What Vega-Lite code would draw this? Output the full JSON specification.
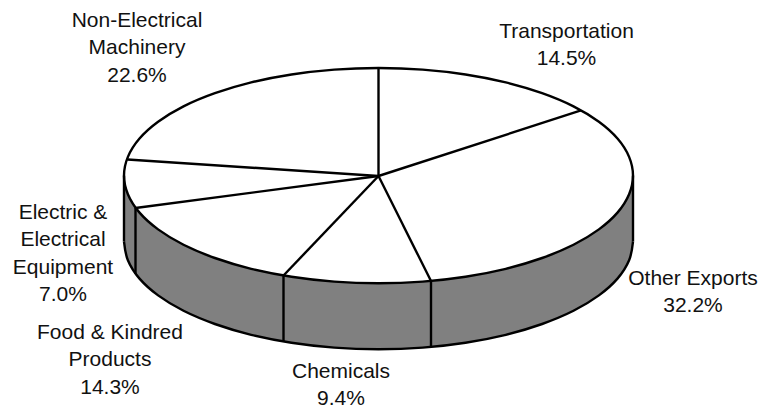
{
"$schema":"https://vega.github.io/schema/vega-lite/v6.json",
"width":761,"height":407,"padding":0,"autosize":{"type":"none"},
"background":"white",
"config":{"view":{"stroke":null}},
"datasets":{
"rim":[{"i":0,"x":633.0,"y":175.6},{"i":1,"x":629.1,"y":194.3},{"i":2,"x":617.7,"y":212.4},{"i":3,"x":598.9,"y":229.4},{"i":4,"x":573.5,"y":244.8},{"i":5,"x":542.1,"y":258.0},{"i":6,"x":505.8,"y":268.8},{"i":7,"x":465.5,"y":276.7},{"i":8,"x":422.7,"y":281.6},{"i":9,"x":378.5,"y":283.2},{"i":10,"x":334.3,"y":281.6},{"i":11,"x":291.5,"y":276.7},{"i":12,"x":251.2,"y":268.8},{"i":13,"x":214.9,"y":258.0},{"i":14,"x":183.5,"y":244.8},{"i":15,"x":158.1,"y":229.4},{"i":16,"x":139.3,"y":212.4},{"i":17,"x":127.9,"y":194.3},{"i":18,"x":124.0,"y":175.6},{"i":19,"x":127.9,"y":156.9},{"i":20,"x":139.3,"y":138.8},{"i":21,"x":158.1,"y":121.8},{"i":22,"x":183.5,"y":106.4},{"i":23,"x":214.9,"y":93.2},{"i":24,"x":251.2,"y":82.4},{"i":25,"x":291.5,"y":74.5},{"i":26,"x":334.3,"y":69.6},{"i":27,"x":378.5,"y":68.0},{"i":28,"x":422.7,"y":69.6},{"i":29,"x":465.5,"y":74.5},{"i":30,"x":505.8,"y":82.4},{"i":31,"x":542.1,"y":93.2},{"i":32,"x":573.5,"y":106.4},{"i":33,"x":598.9,"y":121.8},{"i":34,"x":617.7,"y":138.8},{"i":35,"x":629.1,"y":156.9}],
"wall":[{"x":633.0,"top":175.6,"base":241.6},{"x":629.1,"top":194.3,"base":260.3},{"x":617.7,"top":212.4,"base":278.4},{"x":598.9,"top":229.4,"base":295.4},{"x":573.5,"top":244.8,"base":310.8},{"x":542.1,"top":258.0,"base":324.0},{"x":505.8,"top":268.8,"base":334.8},{"x":465.5,"top":276.7,"base":342.7},{"x":422.7,"top":281.6,"base":347.6},{"x":378.5,"top":283.2,"base":349.2},{"x":334.3,"top":281.6,"base":347.6},{"x":291.5,"top":276.7,"base":342.7},{"x":251.2,"top":268.8,"base":334.8},{"x":214.9,"top":258.0,"base":324.0},{"x":183.5,"top":244.8,"base":310.8},{"x":158.1,"top":229.4,"base":295.4},{"x":139.3,"top":212.4,"base":278.4},{"x":127.9,"top":194.3,"base":260.3},{"x":124.0,"top":175.6,"base":241.6}],
"edges":[{"x":633.0,"top":175.6,"base":241.6},{"x":431.0,"top":281.0,"base":347.0},{"x":283.5,"top":275.5,"base":341.5},{"x":135.5,"top":208.0,"base":274.0},{"x":124.0,"top":175.6,"base":241.6}],
"slices":[{"slice":"Transportation","share":14.5,"hx":378.5,"hy":176,"rx":581,"ry":110.4},{"slice":"Other Exports","share":32.2,"hx":378.5,"hy":176,"rx":431,"ry":281},{"slice":"Chemicals","share":9.4,"hx":378.5,"hy":176,"rx":283.5,"ry":275.5},{"slice":"Food & Kindred Products","share":14.3,"hx":378.5,"hy":176,"rx":135.5,"ry":208},{"slice":"Electric & Electrical Equipment","share":7.0,"hx":378.5,"hy":176,"rx":127.5,"ry":159.5},{"slice":"Non-Electrical Machinery","share":22.6,"hx":378.5,"hy":176,"rx":378.5,"ry":68}],
"labels":[{"t":"Transportation\n14.5%","lx":566.5,"ly":38},{"t":"Other Exports\n32.2%","lx":693,"ly":285},{"t":"Chemicals\n9.4%","lx":341,"ly":378},{"t":"Food & Kindred\nProducts\n14.3%","lx":110,"ly":339},{"t":"Electric &\nElectrical\nEquipment\n7.0%","lx":63,"ly":219},{"t":"Non-Electrical\nMachinery\n22.6%","lx":137,"ly":27}]
},
"layer":[
{"data":{"name":"wall"},"mark":{"type":"area","color":"#808080","interpolate":"cardinal"},
 "encoding":{"x":{"field":"x","type":"quantitative","scale":{"domain":[0,761],"nice":false,"zero":false},"axis":null},
 "y":{"field":"top","type":"quantitative","scale":{"domain":[407,0],"nice":false,"zero":false},"axis":null},
 "y2":{"field":"base"}}},
{"data":{"name":"wall"},"mark":{"type":"line","color":"black","strokeWidth":2.4,"interpolate":"cardinal"},
 "encoding":{"x":{"field":"x","type":"quantitative"},"y":{"field":"base","type":"quantitative"}}},
{"data":{"name":"edges"},"mark":{"type":"rule","color":"black","strokeWidth":2.4},
 "encoding":{"x":{"field":"x","type":"quantitative"},"y":{"field":"top","type":"quantitative"},"y2":{"field":"base"}}},
{"data":{"name":"rim"},"mark":{"type":"line","color":"black","strokeWidth":2.4,"interpolate":"cardinal-closed"},
 "encoding":{"x":{"field":"x","type":"quantitative"},"y":{"field":"y","type":"quantitative"},"order":{"field":"i","type":"quantitative"}}},
{"data":{"name":"slices"},"mark":{"type":"rule","color":"black","strokeWidth":2.4},
 "encoding":{"x":{"field":"hx","type":"quantitative"},"y":{"field":"hy","type":"quantitative"},"x2":{"field":"rx"},"y2":{"field":"ry"}}},
{"data":{"name":"labels"},"mark":{"type":"text","font":"Liberation Sans","fontSize":21,"color":"#111111","align":"center","baseline":"alphabetic","lineBreak":"\n","lineHeight":27.4},
 "encoding":{"x":{"field":"lx","type":"quantitative"},"y":{"field":"ly","type":"quantitative"},"text":{"field":"t","type":"nominal"}}}
]
}
